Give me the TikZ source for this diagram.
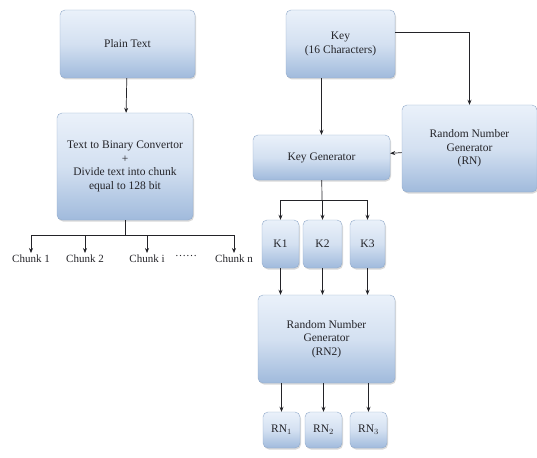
\documentclass[tikz,border=0pt]{standalone}
\usepackage{fontspec}
\setmainfont{Liberation Serif}
\usetikzlibrary{arrows.meta,shadows}

\definecolor{boxtop}{RGB}{234,241,250}
\definecolor{boxbot}{RGB}{160,186,220}
\definecolor{boxline}{RGB}{145,170,202}
\definecolor{ink}{RGB}{35,35,40}

\tikzset{
    block/.style={rounded corners=5pt, draw=boxline, line width=0.4pt,
        top color=boxtop, bottom color=boxbot, middle color=boxtop!70!boxbot,
        drop shadow={opacity=0.3, shadow xshift=1pt, shadow yshift=-1.5pt},
        align=center, text=ink, font=\fontsize{11.5}{13.5}\selectfont, inner sep=2pt},
    chunk/.style={text=ink, font=\fontsize{11}{13}\selectfont, inner sep=2pt, anchor=north}
}

\begin{document}
\begin{tikzpicture}[x=1pt, y=-1pt, >={Stealth[length=5pt,width=4pt]}, ->, draw=ink, line width=0.7pt]
            \useasboundingbox (0,0) rectangle (537,457);

            % left column
            \node (plain) [block, minimum width=135pt, minimum height=68pt] at (127.5,44) {Plain Text};
            \node (tobin) [block, minimum width=136pt, minimum height=107pt] at (125,166.5)
                {Text to Binary Convertor\\+\\Divide text into chunk\\equal to 128 bit};
            \coordinate (split) at (125,235);

            \node (c1) [chunk] at (31,253) {Chunk 1};
            \node (c2) [chunk] at (85,253) {Chunk 2};
            \node (ci) [chunk] at (147,253) {Chunk i};
            \node (dots) [chunk] at (186,253) {\ldots\ldots};
            \node (cn) [chunk] at (234,253) {Chunk n};

            % right column
            \node (key) [block, minimum width=109pt, minimum height=68pt] at (340.5,44) {Key\\(16 Characters)};
            \node (rn) [block, minimum width=135pt, minimum height=87pt] at (469.5,148.5)
                {Random Number\\Generator\\(RN)};
            \node (keygen) [block, minimum width=137pt, minimum height=45pt] at (321.5,157.5) {Key Generator};
            \coordinate (ksplit) at (322,200);

            \node (k1) [block, minimum width=37pt, minimum height=48pt] at (280.5,244) {K1};
            \node (k2) [block, minimum width=39pt, minimum height=48pt] at (322.5,244) {K2};
            \node (k3) [block, minimum width=35pt, minimum height=48pt] at (367.5,244) {K3};

            \node (rn2) [block, minimum width=137pt, minimum height=88pt] at (326.5,339)
                {Random Number\\Generator\\(RN2)};

            \node (r1) [block, minimum width=37pt, minimum height=36pt] at (281.5,430) {RN$_1$};
            \node (r2) [block, minimum width=37pt, minimum height=36pt] at (323.5,430) {RN$_2$};
            \node (r3) [block, minimum width=37pt, minimum height=36pt] at (368.5,430) {RN$_3$};

            \path
            (plain) edge (tobin)
            (keygen |- key.south) edge (keygen)
            (rn) edge (keygen)
            (k1) edge (k1 |- rn2.north)
            (k2) edge (k2 |- rn2.north)
            (k3) edge (k3 |- rn2.north)
            (r1 |- rn2.south) edge (r1)
            (r2 |- rn2.south) edge (r2)
            (r3 |- rn2.south) edge (r3);

            % branching lines
            \draw[-] (tobin) -- (split);
            \draw[-] (c1 |- split) -- (cn |- split);
            \foreach \c in {c1,c2,ci,cn}
                \draw (\c |- split) -- (\c);

            \draw (key.east |- 0,32) -| (rn);

            \draw[-] (keygen) -- (ksplit);
            \draw[-] (k1 |- ksplit) -- (k3 |- ksplit);
            \foreach \k in {k1,k2,k3}
                \draw (\k |- ksplit) -- (\k);
\end{tikzpicture}
\end{document}
